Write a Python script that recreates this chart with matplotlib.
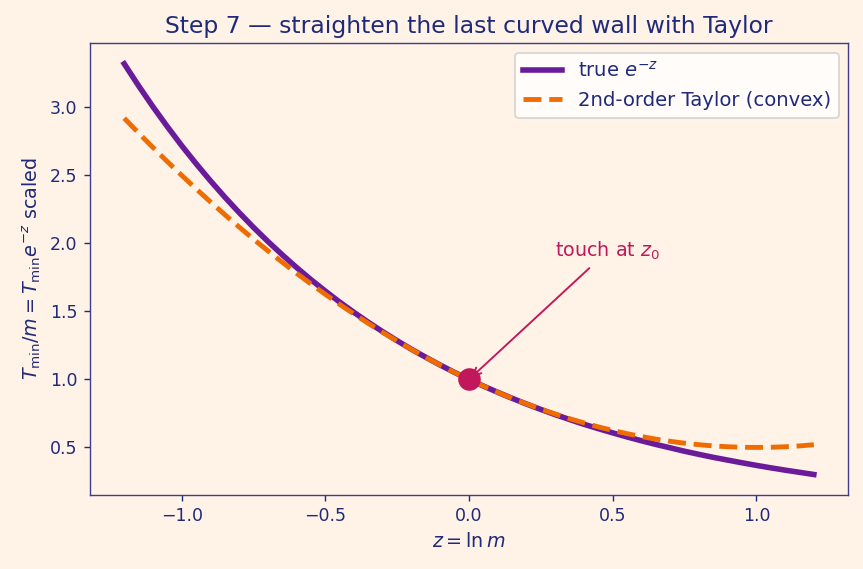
import matplotlib
matplotlib.use("Agg")
import matplotlib.pyplot as plt

# Data
z_vals = [-1.20, -1.15, -1.10, -1.05, -1.00, -0.95, -0.90, -0.85, -0.80, -0.75,
          -0.70, -0.65, -0.60, -0.55, -0.50, -0.45, -0.40, -0.35, -0.30, -0.25,
          -0.20, -0.15, -0.10, -0.05, 0.00, 0.05, 0.10, 0.15, 0.20, 0.25,
          0.30, 0.35, 0.40, 0.45, 0.50, 0.55, 0.60, 0.65, 0.70, 0.75,
          0.80, 0.85, 0.90, 0.95, 1.00, 1.05, 1.10, 1.15, 1.20]
true_vals = [3.320, 3.158, 3.004, 2.858, 2.718, 2.586, 2.460, 2.340, 2.226, 2.117,
             2.014, 1.916, 1.822, 1.733, 1.649, 1.568, 1.492, 1.419, 1.350, 1.284,
             1.221, 1.162, 1.105, 1.051, 1.000, 0.951, 0.905, 0.861, 0.819, 0.779,
             0.741, 0.705, 0.670, 0.638, 0.607, 0.577, 0.549, 0.522, 0.497, 0.472,
             0.449, 0.427, 0.407, 0.387, 0.368, 0.350, 0.333, 0.317, 0.301]
taylor_vals = [2.920, 2.811, 2.705, 2.601, 2.500, 2.401, 2.305, 2.211, 2.120, 2.031,
               1.945, 1.861, 1.780, 1.701, 1.625, 1.551, 1.480, 1.411, 1.345, 1.281,
               1.220, 1.161, 1.105, 1.051, 1.000, 0.951, 0.905, 0.861, 0.820, 0.781,
               0.745, 0.711, 0.680, 0.651, 0.625, 0.601, 0.580, 0.561, 0.545, 0.531,
               0.520, 0.511, 0.505, 0.501, 0.500, 0.501, 0.505, 0.511, 0.520]
touch_z = [0.0]
touch_y = [1.0]

BG = "#fff2e6"
NAVY = "#1f2a7a"
PURPLE = "#6a1b9a"
ORANGE = "#ef6c00"
CRIMSON = "#c2185b"

fig, ax = plt.subplots(figsize=(6.904, 4.552), dpi=125)
fig.patch.set_facecolor(BG)
ax.set_facecolor(BG)

ax.plot(z_vals, true_vals, color=PURPLE, lw=3.2, label=r"true $e^{-z}$", zorder=2)
ax.plot(z_vals, taylor_vals, color=ORANGE, lw=2.8, ls="--",
        label="2nd-order Taylor (convex)", zorder=3)
ax.plot(touch_z, touch_y, "o", color=CRIMSON, ms=12, zorder=4)

ax.annotate(r"touch at $z_0$", xy=(touch_z[0], touch_y[0]), xytext=(0.3, 1.9),
            color=CRIMSON, fontsize=11,
            arrowprops=dict(arrowstyle="->", color=CRIMSON, lw=1.1))

ax.set_title("Step 7 — straighten the last curved wall with Taylor", color=NAVY, fontsize=13.5)
ax.set_xlabel(r"$z=\ln m$", color=NAVY, fontsize=11)
ax.set_ylabel(r"$T_{\min}/m = T_{\min}e^{-z}$ scaled", color=NAVY, fontsize=11)

ax.tick_params(colors=NAVY, labelsize=10)
for sp in ax.spines.values():
    sp.set_color("#3d3d8a")

leg = ax.legend(loc="upper right", fontsize=11.3, facecolor="white", framealpha=0.8,
                handlelength=2.0)
for t in leg.get_texts():
    t.set_color(NAVY)

fig.subplots_adjust(left=0.104, right=0.983, top=0.924, bottom=0.130)
fig.savefig("out.png", dpi=125, facecolor=BG)
